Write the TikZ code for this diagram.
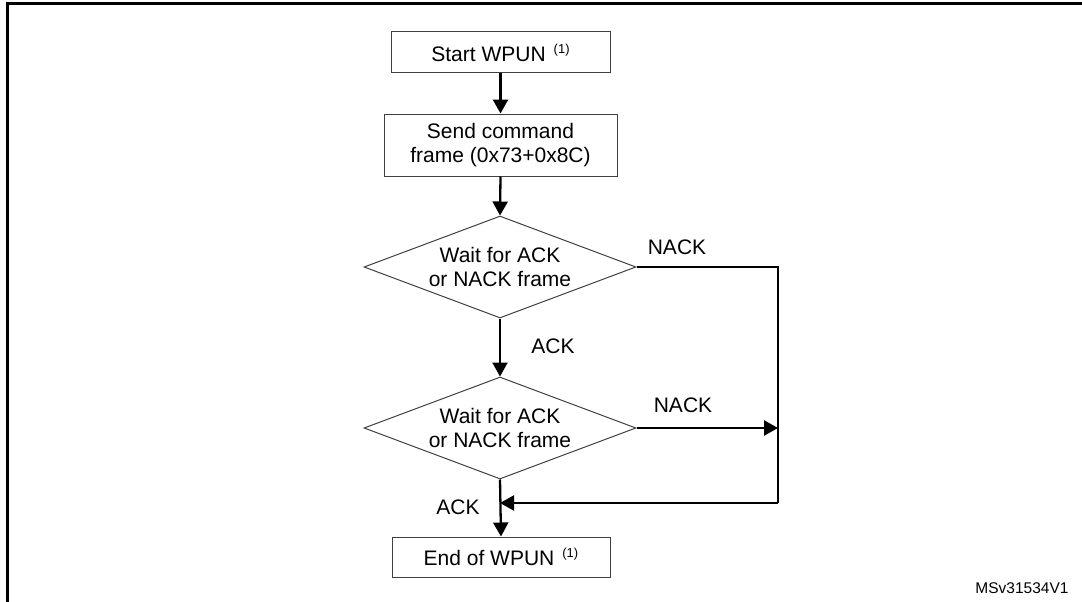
\documentclass[tikz,border=0pt]{standalone}
\usepackage{fontspec}
\setmainfont{Liberation Sans}
\usetikzlibrary{shapes.geometric,arrows.meta}

\tikzset{
  every node/.style={font=\fontsize{21}{24}\selectfont, inner sep=0pt},
  procbox/.style={draw=black!75, line width=1pt, rectangle, align=center},
  decision/.style={draw=black!75, line width=1pt, diamond, aspect=2.67,
                   minimum width=272pt, minimum height=102pt, align=center},
  flow/.style={line width=2.3pt, -{Triangle[length=14pt,width=15pt]}},
  plain/.style={line width=2.3pt},
  lbl/.style={font=\fontsize{21}{24}\selectfont},
  frameline/.style={line width=3pt},
}
\newcommand{\fnmark}{\hspace{8pt}{\fontsize{13}{13}\selectfont\raisebox{8pt}{(1)}}}

\begin{document}
\begin{tikzpicture}[x=1pt,y=-1pt]
  \useasboundingbox (0,0) rectangle (1082,602);

  % outer frame (top and left edges)
  \draw[frameline] (1082,4) -- (7,4) -- (7,602);

  % process steps
  \node[procbox, minimum width=219pt, minimum height=41pt] (start) at (500.5,52.5) {Start WPUN\fnmark};
  \node[procbox, minimum width=233pt, minimum height=62pt] (send) at (500.5,145) {Send command\\frame (0x73+0x8C)};
  \node[decision] (wait1) at (500,267) {Wait for ACK\\or NACK frame};
  \node[decision] (wait2) at (500,428) {Wait for ACK\\or NACK frame};
  \node[procbox, minimum width=218pt, minimum height=40pt] (finish) at (501,557) {End of WPUN\fnmark};

  % routing points of the NACK path
  \coordinate (nackA) at (778,267);
  \coordinate (nackB) at (778,428);
  \coordinate (nackC) at (778,503);
  \coordinate (join)  at (501,503);

  % main flow
  \draw[flow] (start.south) -- (send.north);
  \draw[flow] (send.south) -- (wait1.north);
  \draw[flow] (wait1.south) -- (wait2.north);
  \draw[flow] (wait2.south) -- (finish.north);

  % NACK branches
  \draw[plain] (wait1.east) -- (nackA) -- (nackC);
  \draw[flow] (wait2.east) -- (nackB);
  \draw[flow, shorten >=-1pt] (nackC) -- (join);

  % branch labels
  \node[lbl] (lnack1) at (677,247) {NACK};
  \node[lbl] (lack1)  at (553,346) {ACK};
  \node[lbl] (lnack2) at (683,405) {NACK};
  \node[lbl] (lack2)  at (458,507) {ACK};

  % figure reference
  \node[font=\fontsize{15.5}{18}\selectfont] (ref) at (1022,588) {MSv31534V1};
\end{tikzpicture}
\end{document}
